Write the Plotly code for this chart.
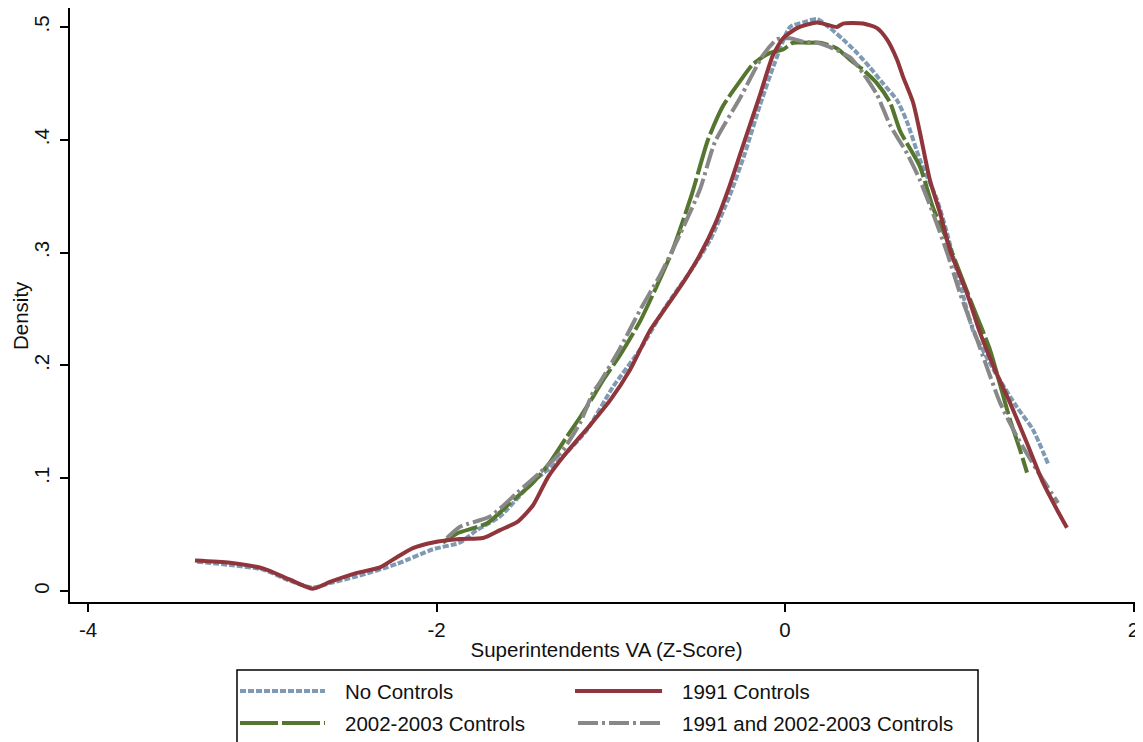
import plotly.graph_objects as go

# ---- data ----
no_ctrl_x = [-3.374, -3.185, -2.996, -2.841, -2.709, -2.611, -2.456, -2.227, -2.020, -1.865, -1.768,
             -1.636, -1.446, -1.309, -1.136, -0.987, -0.832, -0.689, -0.545, -0.430, -0.316, -0.230,
             -0.143, -0.057, 0.029, 0.103, 0.184, 0.258, 0.333, 0.413, 0.488, 0.562, 0.643, 0.700,
             0.775, 0.872, 0.930, 1.004, 1.079, 1.205, 1.331, 1.423, 1.509]
no_ctrl_y = [0.026, 0.023, 0.019, 0.009, 0.003, 0.007, 0.013, 0.024, 0.037, 0.043, 0.054,
             0.066, 0.097, 0.114, 0.143, 0.181, 0.214, 0.251, 0.283, 0.311, 0.351, 0.388,
             0.431, 0.469, 0.500, 0.504, 0.507, 0.499, 0.489, 0.477, 0.464, 0.450, 0.435, 0.416,
             0.382, 0.347, 0.317, 0.273, 0.231, 0.194, 0.163, 0.143, 0.113]

c1991_x = [-3.386, -3.185, -2.996, -2.841, -2.709, -2.611, -2.456, -2.324, -2.227, -2.135, -2.020,
           -1.865, -1.733, -1.636, -1.538, -1.446, -1.360, -1.263, -1.119, -1.004, -0.890, -0.775,
           -0.671, -0.574, -0.488, -0.402, -0.316, -0.230, -0.143, -0.069, -0.011, 0.069, 0.184,
           0.241, 0.298, 0.333, 0.448, 0.528, 0.585, 0.643, 0.677, 0.735, 0.775, 0.832, 0.890,
           0.947, 1.044, 1.119, 1.205, 1.291, 1.389, 1.481, 1.561, 1.618]
c1991_y = [0.027, 0.025, 0.020, 0.010, 0.002, 0.008, 0.016, 0.021, 0.030, 0.038, 0.043,
           0.046, 0.047, 0.054, 0.061, 0.076, 0.101, 0.121, 0.147, 0.169, 0.196, 0.231,
           0.254, 0.276, 0.298, 0.325, 0.360, 0.400, 0.440, 0.475, 0.490, 0.499, 0.504,
           0.502, 0.500, 0.503, 0.503, 0.499, 0.489, 0.471, 0.456, 0.433, 0.406, 0.364, 0.335,
           0.302, 0.264, 0.229, 0.196, 0.167, 0.131, 0.096, 0.072, 0.056]

c2002_x = [-1.963, -1.882, -1.710, -1.578, -1.446, -1.349, -1.251, -1.176, -1.102, -1.044, -0.947,
           -0.832, -0.746, -0.648, -0.534, -0.442, -0.356, -0.258, -0.184, -0.086, -0.011, 0.046,
           0.126, 0.201, 0.298, 0.373, 0.448, 0.528, 0.603, 0.660, 0.775, 0.849, 0.930, 1.004,
           1.079, 1.176, 1.234, 1.291, 1.349, 1.389]
c2002_y = [0.043, 0.051, 0.060, 0.078, 0.096, 0.114, 0.137, 0.154, 0.172, 0.187, 0.209,
           0.239, 0.267, 0.301, 0.352, 0.400, 0.430, 0.452, 0.467, 0.477, 0.480, 0.486,
           0.486, 0.486, 0.481, 0.471, 0.462, 0.450, 0.433, 0.408, 0.376, 0.340, 0.311, 0.282,
           0.252, 0.214, 0.183, 0.152, 0.125, 0.105]

both_x = [-1.940, -1.865, -1.693, -1.538, -1.406, -1.274, -1.176, -1.102, -1.062, -0.947, -0.832,
          -0.717, -0.603, -0.488, -0.402, -0.258, -0.126, -0.046, 0.029, 0.103, 0.184, 0.275,
          0.373, 0.448, 0.528, 0.603, 0.700, 0.775, 0.849, 0.930, 1.004, 1.102, 1.234, 1.331,
          1.446, 1.567]
both_y = [0.047, 0.057, 0.066, 0.087, 0.105, 0.125, 0.149, 0.176, 0.185, 0.215, 0.249,
          0.280, 0.316, 0.356, 0.398, 0.437, 0.475, 0.489, 0.490, 0.487, 0.486, 0.481,
          0.473, 0.459, 0.440, 0.413, 0.388, 0.364, 0.335, 0.300, 0.264, 0.223, 0.167, 0.137,
          0.107, 0.078]

series_names = ["No Controls", "1991 Controls", "2002-2003 Controls", "1991 and 2002-2003 Controls"]
x_ticks = [-4, -2, 0, 2]
x_tick_labels = ["-4", "-2", "0", "2"]
y_ticks = [0, 0.1, 0.2, 0.3, 0.4, 0.5]
y_tick_labels = ["0", ".1", ".2", ".3", ".4", ".5"]

# ---- styles ----
FONT = "Liberation Sans, Arial, sans-serif"
FS = 20.5
styles = [
    dict(color="#7f9ab3", dash="6px,2px", width=4),
    dict(color="#90353b", dash="solid", width=4),
    dict(color="#55762e", dash="38px,4px", width=4),
    dict(color="#888888", dash="20px,4px,3px,4px", width=4),
]
xs = [no_ctrl_x, c1991_x, c2002_x, both_x]
ys = [no_ctrl_y, c1991_y, c2002_y, both_y]
order = [0, 2, 3, 1]

fig = go.Figure()
for i in order:
    fig.add_trace(go.Scatter(
        x=xs[i], y=ys[i], mode="lines", name=series_names[i],
        line=dict(color=styles[i]["color"], dash=styles[i]["dash"], width=styles[i]["width"],
                  shape="spline", smoothing=0.6),
        showlegend=False,
    ))

# page body has an 8px margin: figure origin sits at (8, 8) in the window
OFF = 8
W, H = 1135, 734
L, R, T, B = 62, 0, 0, 140
pw, ph = W - L - R, H - T - B
PLOT_L = OFF + L
PLOT_B = OFF + H - B


def px(xv):
    return (xv - PLOT_L) / pw


def py(yv):
    return (PLOT_B - yv) / ph


# legend box
shapes = [dict(type="rect", xref="paper", yref="paper", x0=px(237), x1=px(978), y0=py(670), y1=py(752),
               line=dict(color="black", width=1.5), fillcolor="white", layer="above")]
annotations = []
legend_pos = [(240, 325, 691, 343), (575, 662, 691, 680), (240, 325, 723, 343), (578, 662, 723, 680)]
for i, (x0, x1, yy, tx) in enumerate(legend_pos):
    s = styles[i]
    shapes.append(dict(type="line", xref="paper", yref="paper", x0=px(x0), x1=px(x1), y0=py(yy), y1=py(yy),
                       line=dict(color=s["color"], dash=s["dash"], width=4), layer="above"))
    annotations.append(dict(xref="paper", yref="paper", x=px(tx), y=py(yy), text=series_names[i],
                            xanchor="left", yanchor="middle", showarrow=False,
                            font=dict(family=FONT, size=FS, color="#111111")))

# y axis title
annotations.append(dict(xref="paper", yref="paper", x=px(20), y=py(316), text="Density", textangle=-90,
                        xanchor="center", yanchor="middle", showarrow=False,
                        font=dict(family=FONT, size=FS, color="#111111")))

fig.update_layout(
    width=W, height=H,
    margin=dict(l=L, r=R, t=T, b=B, autoexpand=False),
    paper_bgcolor="white", plot_bgcolor="white",
    font=dict(family=FONT, size=FS, color="#111111"),
    shapes=shapes, annotations=annotations,
    showlegend=False,
)
fig.update_xaxes(
    range=[-4.1033, 2.0545], tickvals=x_ticks, ticktext=x_tick_labels,
    showgrid=False, zeroline=False, showline=True, linecolor="black", linewidth=2,
    mirror=True, ticks="outside", ticklen=8, tickwidth=1.5, tickcolor="black",
    title=dict(text="Superintendents VA (Z-Score)", standoff=3, font=dict(size=FS)),
    tickfont=dict(size=FS), automargin=False,
)
fig.update_yaxes(
    range=[-0.00975, 0.5168], tickvals=y_ticks, ticktext=y_tick_labels,
    showgrid=False, zeroline=False, showline=True, linecolor="black", linewidth=2,
    ticks="outside", ticklen=8, tickwidth=1.5, tickcolor="black", tickangle=-90,
    ticklabelstandoff=3, tickfont=dict(size=FS), automargin=False,
)

fig.write_html("out.html")
